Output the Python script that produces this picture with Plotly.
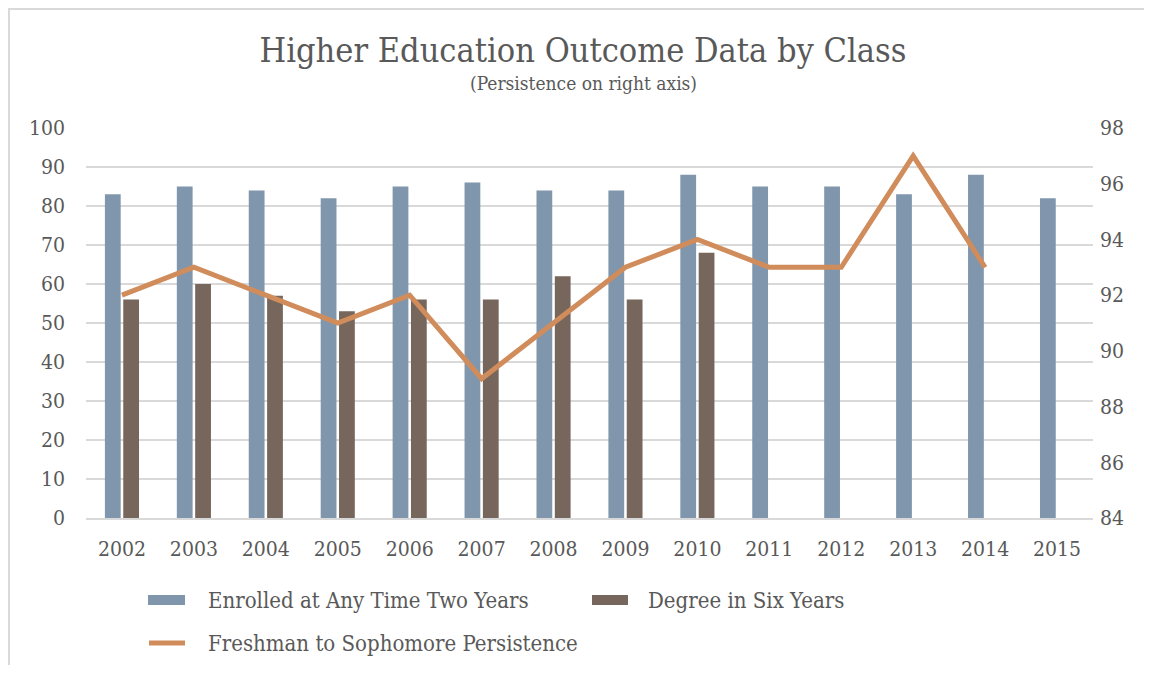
import plotly.graph_objects as go

years = ['2002', '2003', '2004', '2005', '2006', '2007', '2008',
         '2009', '2010', '2011', '2012', '2013', '2014', '2015']
enrolled = [83, 85, 84, 82, 85, 86, 84, 84, 88, 85, 85, 83, 88, 82]
degree = [56, 60, 57, 53, 56, 56, 62, 56, 68, None, None, None, None, None]
persistence = [92, 93, 92, 91, 92, 89, 91, 93, 94, 93, 93, 97, 93, None]

names = ['Enrolled at Any Time Two Years', 'Degree in Six Years',
         'Freshman to Sophomore Persistence']
colors = ['#7f96ad', '#76665b', '#d18c5c']

FONT = 'DejaVu Serif Condensed, DejaVu Serif, serif'
TXT = '#595959'
GRID = '#d9d9d9'

# page pixel -> paper coords (plot area spans x 86..1093, y 128..518 on the page)
def px(x):
    return (x - 86) / (1093 - 86)

def py(y):
    return (518 - y) / (518 - 128)

fig = go.Figure()
fig.add_trace(go.Bar(x=years, y=enrolled, name=names[0],
                     marker=dict(color=colors[0], line=dict(width=0))))
fig.add_trace(go.Bar(x=years, y=degree, name=names[1],
                     marker=dict(color=colors[1], line=dict(width=0))))
fig.add_trace(go.Scatter(x=years, y=persistence, name=names[2],
                         mode='lines', yaxis='y2',
                         line=dict(color=colors[2], width=5)))

# chart frame (left and top edges only are in view)
shapes = [
    dict(type='line', xref='paper', yref='paper', x0=px(9), x1=px(9),
         y0=py(665), y1=py(8), line=dict(color=GRID, width=2)),
    dict(type='line', xref='paper', yref='paper', x0=px(8), x1=px(1144),
         y0=py(9), y1=py(9), line=dict(color=GRID, width=2)),
]
# legend drawn by hand so bar keys are wide rectangles like the original
shapes += [
    dict(type='rect', xref='paper', yref='paper', x0=px(148), x1=px(185),
         y0=py(605), y1=py(595), fillcolor=colors[0], line=dict(width=0)),
    dict(type='rect', xref='paper', yref='paper', x0=px(592), x1=px(628),
         y0=py(605), y1=py(595), fillcolor=colors[1], line=dict(width=0)),
    dict(type='line', xref='paper', yref='paper', x0=px(149), x1=px(185),
         y0=py(643), y1=py(643), line=dict(color=colors[2], width=5)),
]
annotations = [
    dict(text='(Persistence on right axis)', xref='paper', yref='paper',
         x=px(583), y=py(83), xanchor='center', yanchor='middle', showarrow=False,
         font=dict(size=19, color=TXT, family=FONT)),
    dict(text=names[0], xref='paper', yref='paper', x=px(206), y=py(600),
         xanchor='left', yanchor='middle', showarrow=False,
         font=dict(size=22, color=TXT, family=FONT)),
    dict(text=names[1], xref='paper', yref='paper', x=px(646), y=py(600),
         xanchor='left', yanchor='middle', showarrow=False,
         font=dict(size=22, color=TXT, family=FONT)),
    dict(text=names[2], xref='paper', yref='paper', x=px(206), y=py(643),
         xanchor='left', yanchor='middle', showarrow=False,
         font=dict(size=22, color=TXT, family=FONT)),
]

# the page body has an 8px margin, so the figure is sized to fit inside it
fig.update_layout(
    width=1136, height=657,
    margin=dict(l=78, r=51, t=120, b=147),
    paper_bgcolor='white', plot_bgcolor='white',
    font=dict(family=FONT, color=TXT, size=21),
    barmode='group', bargap=0.49, bargroupgap=0.14,
    showlegend=False,
    title=dict(text='Higher Education Outcome Data by Class',
               x=(583 - 8) / 1136, xanchor='center',
               y=1 - 42 / 657, yanchor='middle',
               font=dict(family=FONT, size=34, color=TXT)),
    xaxis=dict(showgrid=False, showline=True, linecolor=GRID, linewidth=2,
               ticks='', ticklabelstandoff=11, tickfont=dict(size=21)),
    yaxis=dict(range=[0, 100], dtick=10, showgrid=True, gridcolor=GRID, gridwidth=2,
               zeroline=False, ticks='', ticklabelstandoff=20,
               tickfont=dict(size=21)),
    yaxis2=dict(range=[84, 98], dtick=2, overlaying='y', side='right',
                showgrid=False, zeroline=False, ticks='', ticklabelstandoff=6,
                tickfont=dict(size=21)),
    shapes=shapes,
    annotations=annotations,
)

fig.write_html('out.html')
